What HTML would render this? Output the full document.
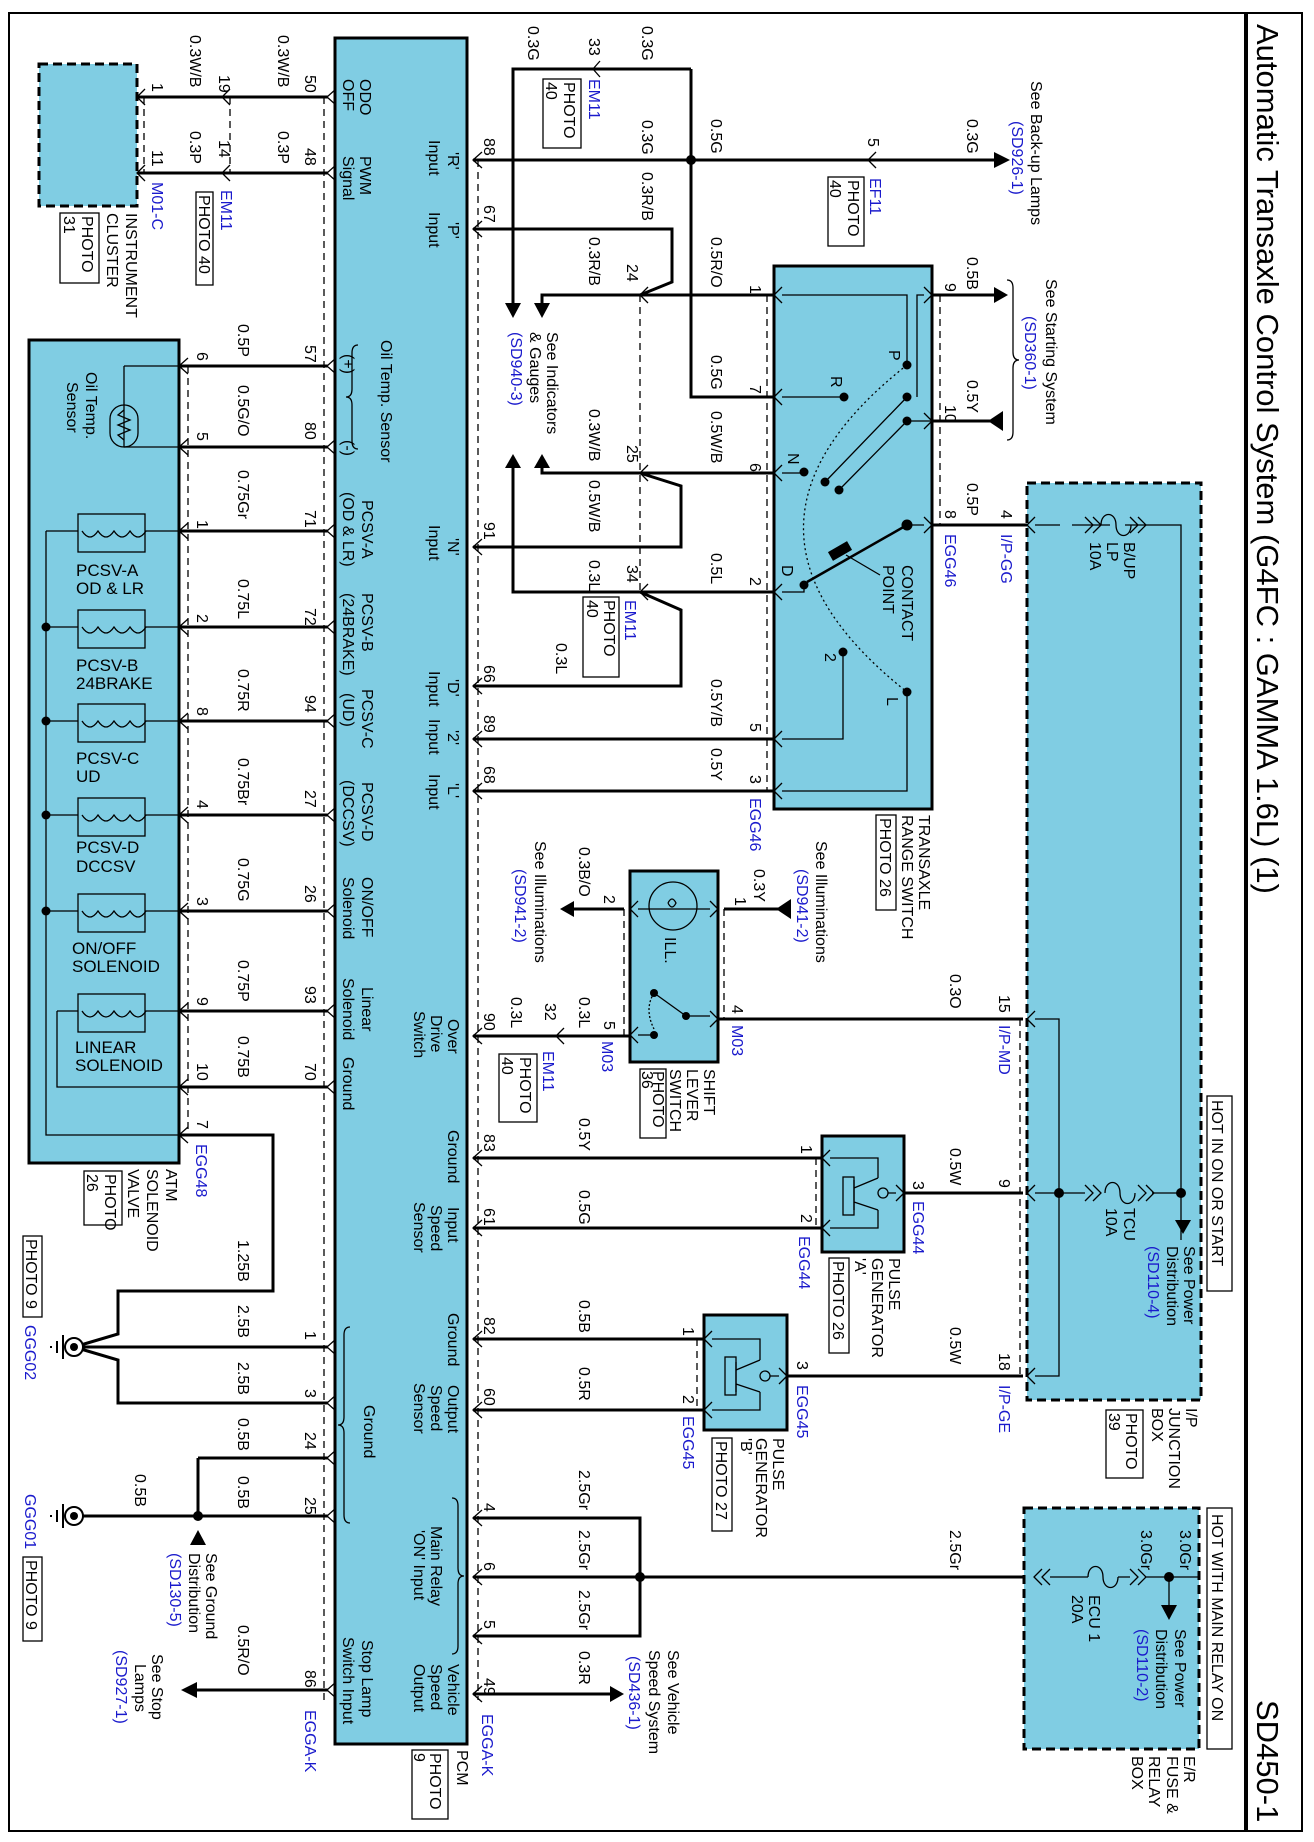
<!DOCTYPE html>
<html><head><meta charset="utf-8"><style>
html,body{margin:0;padding:0;background:#fff}
svg{display:block}
text{font-family:"Liberation Sans",Arial,sans-serif;font-size:16px;fill:#000}
.b{fill:#1a1acc}
.t{font-size:31px}
.s{font-size:17px}
</style></head><body>
<svg width="1314" height="1842" viewBox="0 0 1314 1842" xmlns="http://www.w3.org/2000/svg">
<rect x="9" y="13" width="1293" height="1818" fill="none" stroke="#000" stroke-width="2"/>
<line x1="1246" y1="13" x2="1246" y2="1831" stroke="#000" stroke-width="4"/>

<g fill="#80cde3" stroke="#000">
<rect x="335" y="38" width="132" height="1706" stroke-width="3"/>
<rect x="39" y="64" width="98" height="142" stroke-width="3" stroke-dasharray="9,5"/>
<rect x="29" y="340" width="150" height="823" stroke-width="3"/>
<rect x="774" y="266" width="158" height="543" stroke-width="3"/>
<rect x="630" y="871" width="88" height="191" stroke-width="3"/>
<rect x="822" y="1136" width="82" height="116" stroke-width="3"/>
<rect x="704" y="1315" width="83" height="115" stroke-width="3"/>
<rect x="1027" y="483" width="174" height="917" stroke-width="3" stroke-dasharray="9,5"/>
<rect x="1024" y="1508" width="175" height="241" stroke-width="3" stroke-dasharray="9,5"/>
</g>

<g stroke="#000" stroke-width="1.3" stroke-dasharray="7,5" fill="none">
<line x1="324" y1="97" x2="324" y2="1700"/>
<line x1="478" y1="160" x2="478" y2="1700"/>
<line x1="144" y1="97" x2="144" y2="173"/>
<line x1="230" y1="97" x2="230" y2="173"/>
<line x1="188" y1="366" x2="188" y2="1135"/>
<line x1="767" y1="295" x2="767" y2="791"/>
<line x1="940" y1="295" x2="940" y2="525"/>
<line x1="640" y1="295" x2="640" y2="592"/>
<line x1="624" y1="909" x2="624" y2="1035"/>
<line x1="724" y1="909" x2="724" y2="1019"/>
<line x1="816" y1="1158" x2="816" y2="1228"/>
<line x1="697" y1="1339" x2="697" y2="1410"/>
<line x1="1020" y1="1019" x2="1020" y2="1376"/>
</g>

<g stroke="#000" stroke-width="3" fill="none">
<path d="M137 97H328M137 173H328"/>
<path d="M179 366H328M179 447H328M179 531H328M179 627H328M179 721H328M179 815H328M179 911H328M179 1011H328M179 1087H328"/>
<path d="M179 1135H273V1291H118V1334L74 1347M74 1347H328M328 1403H118V1360L74 1347"/>
<path d="M198 1458H328M198 1458V1516M74 1516H328M195 1690H328"/>
<path d="M473 160H1000M691 69V397H774M593 69H691M593 69H513V305"/>
<path d="M473 229H672V282L640 295H774M640 295H542V305"/>
<path d="M473 547H681V486L640 473H774M640 473H542V466"/>
<path d="M640 592H774M640 592H513V466M473 686H681V610L640 592"/>
<path d="M473 739H774M473 791H774"/>
<path d="M473 1036H630M624 909H572M724 909H778M719 1019H1023"/>
<path d="M473 1158H822M473 1228H822M904 1193H1023"/>
<path d="M473 1339H704M473 1410H704M787 1376H1023"/>
<path d="M473 1518H640V1636H473M473 1577H1024M473 1694H612"/>
<path d="M932 295H995M932 421H990M932 525H1027"/>
</g>

<g fill="#000">
<polygon points="505,303 521,303 513,318"/>
<polygon points="534,303 550,303 542,318"/>
<polygon points="505,468 521,468 513,454"/>
<polygon points="534,468 550,468 542,454"/>
<polygon points="994,152 994,168 1010,160"/>
<polygon points="994,287 994,303 1008,295"/>
<polygon points="988,421 1003,411 1003,431"/>
<polygon points="574,901 574,917 560,909"/>
<polygon points="776,909 791,899 791,919"/>
<polygon points="610,1686 610,1702 624,1694"/>
<polygon points="197,1682 197,1698 181,1690"/>
<polygon points="190,1545 206,1545 198,1530"/>
<polygon points="1175,1220 1191,1220 1183,1234"/>
<polygon points="1161,1605 1177,1605 1169,1620"/>
</g>
<g fill="#000">
<circle cx="691" cy="160" r="5"/><circle cx="198" cy="1516" r="5"/><circle cx="640" cy="1577" r="5"/>
<circle cx="1059" cy="1193" r="5"/><circle cx="1181" cy="1193" r="5"/><circle cx="1169" cy="1577" r="5"/>
<circle cx="46" cy="627" r="4.5"/><circle cx="46" cy="721" r="4.5"/><circle cx="46" cy="815" r="4.5"/><circle cx="46" cy="911" r="4.5"/>
</g>

<g stroke="#000" stroke-width="1.3" fill="none">
<path d="M336 89L327 97L336 105M336 165L327 173L336 181M230 89L222 97L230 105M230 165L222 173L230 181M145 89L137 97L145 105M145 165L137 173L145 181"/>
<path d="M336 358L327 366L336 374M336 439L327 447L336 455M336 523L327 531L336 539M336 619L327 627L336 635M336 713L327 721L336 729M336 807L327 815L336 823M336 903L327 911L336 919M336 1003L327 1011L336 1019M336 1079L327 1087L336 1095M336 1339L327 1347L336 1355M336 1395L327 1403L336 1411M336 1450L327 1458L336 1466M336 1508L327 1516L336 1524M336 1682L327 1690L336 1698"/>
<path d="M188 358L179 366L188 374M188 439L179 447L188 455M188 523L179 531L188 539M188 619L179 627L188 635M188 713L179 721L188 729M188 807L179 815L188 823M188 903L179 911L188 919M188 1003L179 1011L188 1019M188 1079L179 1087L188 1095M188 1127L179 1135L188 1143"/>
<path d="M482 152L473 160L482 168M482 221L473 229L482 237M482 539L473 547L482 555M482 678L473 686L482 694M482 731L473 739L482 747M482 783L473 791L482 799M482 1028L473 1036L482 1044M482 1150L473 1158L482 1166M482 1220L473 1228L482 1236M482 1331L473 1339L482 1347M482 1402L473 1410L482 1418M482 1510L473 1518L482 1526M482 1569L473 1577L482 1585M482 1628L473 1636L482 1644M482 1686L473 1694L482 1702"/>
<path d="M600 61L593 69L600 77M648 287L640 295L648 303M648 465L640 473L648 481M648 584L640 592L648 600M564 1028L556 1036L564 1044M876 152L868 160L876 168"/>
<path d="M782 287L774 295L782 303M782 389L774 397L782 405M782 465L774 473L782 481M782 584L774 592L782 600M782 731L774 739L782 747M782 783L774 791L782 799"/>
<path d="M924 287L932 295L924 303M924 413L932 421L924 429M924 517L932 525L924 533"/>
<path d="M638 901L630 909L638 917M638 1027L630 1035L638 1043M710 901L718 909L710 917M710 1011L718 1019L710 1027"/>
<path d="M830 1150L822 1158L830 1166M830 1220L822 1228L830 1236M712 1331L704 1339L712 1347M712 1402L704 1410L712 1418M896 1185L904 1193L896 1201M779 1368L787 1376L779 1384"/>
<path d="M1035 517L1027 525L1035 533M1035 1011L1027 1019L1035 1027M1035 1185L1027 1193L1035 1201M1035 1368L1027 1376L1035 1384"/>
</g>

<g stroke="#000" stroke-width="1.3" fill="none">
<path d="M46 531V1135H179M46 531H78M145 531H179M46 627H78M145 627H179M46 721H78M145 721H179M46 815H78M145 815H179M46 911H78M145 911H179M57 1011H78M145 1011H179M57 1011V1087H179"/>
<rect x="78" y="514" width="67" height="38"/><rect x="78" y="610" width="67" height="38"/><rect x="78" y="704" width="67" height="38"/>
<rect x="78" y="798" width="67" height="38"/><rect x="78" y="894" width="67" height="38"/><rect x="78" y="994" width="67" height="38"/>
<path d="M82 531q8 12 16 0q8 12 16 0q8 12 16 0q8 12 16 0M82 627q8 12 16 0q8 12 16 0q8 12 16 0q8 12 16 0M82 721q8 12 16 0q8 12 16 0q8 12 16 0q8 12 16 0M82 815q8 12 16 0q8 12 16 0q8 12 16 0q8 12 16 0M82 911q8 12 16 0q8 12 16 0q8 12 16 0q8 12 16 0M82 1011q8 12 16 0q8 12 16 0q8 12 16 0q8 12 16 0"/>
<path d="M124 366H179M124 447H179M124 366V447"/>
<rect x="110" y="405" width="28" height="42" rx="14"/>
<path d="M124 410l-6 5l12 5l-12 5l12 5l-12 5l6 5"/>
</g>

<g stroke="#000" stroke-width="1.3" fill="none">
<path d="M782 295H907V365M924 295H917V397M782 397H844M782 473H804M782 592H804V585M932 421H907M924 525H907M782 739H843V652M782 791H907V692"/>
<path d="M907 365Q700 528 907 692" stroke-dasharray="2,3"/>
<path d="M907 397L825 482M907 421L839 490"/>
<path d="M907 525L807 582" stroke-width="2.5"/>
<path d="M846 555L880 575"/>
</g>
<rect x="829" y="546" width="22" height="10" transform="rotate(-30 840 551)" fill="#000"/>
<g fill="#000">
<circle cx="907" cy="365" r="4.5"/><circle cx="844" cy="397" r="4.5"/><circle cx="907" cy="397" r="4.5"/><circle cx="907" cy="421" r="4.5"/>
<circle cx="804" cy="472" r="4.5"/><circle cx="825" cy="482" r="4.5"/><circle cx="839" cy="490" r="4.5"/><circle cx="907" cy="525" r="5.5"/>
<circle cx="804" cy="585" r="4.5"/><circle cx="843" cy="652" r="4.5"/><circle cx="907" cy="692" r="4.5"/>
</g>

<g stroke="#000" stroke-width="1.3" fill="none">
<path d="M638 909H710"/><circle cx="673" cy="906" r="24"/>
<path d="M668 903q4 -8 8 0q-4 8 -8 0"/>
<path d="M638 1035H654M654 993L686 1016H710"/>
<path d="M654 993q-10 16 0 36" stroke-dasharray="2,2"/>
</g>
<g fill="#000"><circle cx="654" cy="993" r="4"/><circle cx="686" cy="1016" r="4"/><circle cx="654" cy="1035" r="4"/></g>

<g stroke="#000" stroke-width="1.3" fill="none">
<path d="M830 1158H878V1178M830 1228H878V1210M854 1180V1210M854 1188L878 1178M854 1202L878 1210M888 1193H896"/>
<rect x="843" y="1177" width="11" height="38"/><circle cx="883" cy="1193" r="5"/>
<path d="M712 1339H760V1360M712 1410H760V1392M736 1362V1392M736 1370L760 1360M736 1384L760 1392M770 1376H779"/>
<rect x="725" y="1357" width="11" height="38"/><circle cx="765" cy="1376" r="5"/>
</g>

<g stroke="#000" stroke-width="1.3" fill="none">
<path d="M1035 525H1060M1072 525H1110M1125 525H1181V1240M1035 1019H1059V1376H1035M1035 1193H1085M1152 1193H1181"/>
<path d="M1085 517l8 8l-8 8M1093 517l8 8l-8 8M1130 517l8 8l-8 8M1138 517l8 8l-8 8"/>
<path d="M1101 525c0 -14 15 -14 15 0s15 14 15 0" />
<path d="M1085 1185l8 8l-8 8M1093 1185l8 8l-8 8M1138 1185l8 8l-8 8M1146 1185l8 8l-8 8M1105 1193c0 -14 15 -14 15 0s15 14 15 0"/>
<path d="M1042 1569l-8 8l8 8M1050 1569l-8 8l8 8M1130 1569l8 8l-8 8M1138 1569l8 8l-8 8M1088 1577c0 -14 15 -14 15 0s15 14 15 0M1050 1577H1088M1118 1577H1130M1146 1577H1199M1169 1577V1605"/>
<rect x="1207" y="1096" width="25" height="195"/><rect x="1207" y="1508" width="25" height="241"/>
</g>

<g stroke="#000" stroke-width="2" fill="#fff">
<circle cx="74" cy="1347" r="9"/><circle cx="74" cy="1516" r="9"/>
</g>
<g fill="#000"><circle cx="74" cy="1347" r="4"/><circle cx="74" cy="1516" r="4"/></g>
<g stroke="#000" stroke-width="2"><path d="M63 1335V1359M57 1341V1353M51 1346V1348M63 1504V1528M57 1510V1522M51 1515V1517"/></g>

<g stroke="#000" stroke-width="1.3" fill="none">
<path d="M358 345q-6 0 -6 8v36q0 8 -6 8q6 0 6 8v36q0 8 6 8"/>
<path d="M350 1327q-6 0 -6 8v82q0 8 -6 8q6 0 6 8v82q0 8 6 8"/>
<path d="M452 1498q6 0 6 8v62q0 8 6 8q-6 0 -6 8v62q0 8 -6 8"/>
<path d="M1007 280q6 0 6 8v64q0 8 6 8q-6 0 -6 8v64q0 8 -6 8"/>
</g>

<g stroke="#000" stroke-width="1.3" fill="#fff">
<rect x="60" y="213" width="39" height="70"/><rect x="196" y="192" width="17" height="93"/>
<rect x="543" y="79" width="38" height="69"/><rect x="583" y="597" width="36" height="80"/>
<rect x="499" y="1054" width="38" height="68"/><rect x="828" y="177" width="36" height="69"/>
<rect x="876" y="815" width="20" height="95"/><rect x="640" y="1069" width="26" height="69"/>
<rect x="84" y="1171" width="38" height="54"/><rect x="23" y="1236" width="19" height="81"/>
<rect x="23" y="1557" width="19" height="84"/><rect x="829" y="1258" width="20" height="95"/>
<rect x="712" y="1438" width="20" height="93"/><rect x="1106" y="1410" width="37" height="68"/>
<rect x="412" y="1750" width="36" height="69"/>
</g>

<g>
<text class="t" x="1257" y="24" transform="rotate(90 1257 24)">Automatic Transaxle Control System (G4FC : GAMMA 1.6L) (1)</text>
<text class="t" x="1257" y="1700" transform="rotate(90 1257 1700)">SD450-1</text>

<text x="190" y="35" transform="rotate(90 190 35)">0.3W/B</text>
<text x="278" y="35" transform="rotate(90 278 35)">0.3W/B</text>
<text x="219" y="75" transform="rotate(90 219 75)">19</text>
<text x="152" y="83" transform="rotate(90 152 83)">1</text>
<text x="305" y="75" transform="rotate(90 305 75)">50</text>
<text x="190" y="131" transform="rotate(90 190 131)">0.3P</text>
<text x="278" y="131" transform="rotate(90 278 131)">0.3P</text>
<text x="219" y="140" transform="rotate(90 219 140)">14</text>
<text x="152" y="150" transform="rotate(90 152 150)">11</text>
<text x="305" y="148" transform="rotate(90 305 148)">48</text>
<text class="b" x="152" y="182" transform="rotate(90 152 182)">M01-C</text>
<text class="b" x="221" y="190" transform="rotate(90 221 190)">EM11</text>
<text x="199" y="195" transform="rotate(90 199 195)">PHOTO 40</text>
<text x="126" y="213" transform="rotate(90 126 213)">INSTRUMENT</text>
<text x="107" y="213" transform="rotate(90 107 213)">CLUSTER</text>
<text x="82" y="216" transform="rotate(90 82 216)">PHOTO</text>
<text x="64" y="216" transform="rotate(90 64 216)">31</text>

<text x="360" y="79" transform="rotate(90 360 79)">ODO</text>
<text x="343" y="79" transform="rotate(90 343 79)">OFF</text>
<text x="360" y="156" transform="rotate(90 360 156)">PWM</text>
<text x="343" y="156" transform="rotate(90 343 156)">Signal</text>
<text x="381" y="340" transform="rotate(90 381 340)">Oil Temp. Sensor</text>
<text x="343" y="354" transform="rotate(90 343 354)">(+)</text>
<text x="343" y="440" transform="rotate(90 343 440)">(-)</text>
<text x="362" y="500" transform="rotate(90 362 500)">PCSV-A</text>
<text x="343" y="492" transform="rotate(90 343 492)">(OD &amp; LR)</text>
<text x="362" y="593" transform="rotate(90 362 593)">PCSV-B</text>
<text x="343" y="593" transform="rotate(90 343 593)">(24BRAKE)</text>
<text x="362" y="689" transform="rotate(90 362 689)">PCSV-C</text>
<text x="343" y="693" transform="rotate(90 343 693)">(UD)</text>
<text x="362" y="782" transform="rotate(90 362 782)">PCSV-D</text>
<text x="343" y="780" transform="rotate(90 343 780)">(DCCSV)</text>
<text x="362" y="877" transform="rotate(90 362 877)">ON/OFF</text>
<text x="343" y="877" transform="rotate(90 343 877)">Solenoid</text>
<text x="362" y="987" transform="rotate(90 362 987)">Linear</text>
<text x="343" y="978" transform="rotate(90 343 978)">Solenoid</text>
<text x="343" y="1057" transform="rotate(90 343 1057)">Ground</text>
<text x="364" y="1405" transform="rotate(90 364 1405)">Ground</text>
<text x="362" y="1640" transform="rotate(90 362 1640)">Stop Lamp</text>
<text x="343" y="1637" transform="rotate(90 343 1637)">Switch Input</text>

<text x="448" y="152" transform="rotate(90 448 152)">'R'</text>
<text x="429" y="140" transform="rotate(90 429 140)">Input</text>
<text x="448" y="222" transform="rotate(90 448 222)">'P'</text>
<text x="429" y="212" transform="rotate(90 429 212)">Input</text>
<text x="448" y="538" transform="rotate(90 448 538)">'N'</text>
<text x="429" y="525" transform="rotate(90 429 525)">Input</text>
<text x="448" y="679" transform="rotate(90 448 679)">'D'</text>
<text x="429" y="671" transform="rotate(90 429 671)">Input</text>
<text x="448" y="730" transform="rotate(90 448 730)">'2'</text>
<text x="429" y="719" transform="rotate(90 429 719)">Input</text>
<text x="448" y="783" transform="rotate(90 448 783)">'L'</text>
<text x="429" y="774" transform="rotate(90 429 774)">Input</text>
<text x="448" y="1019" transform="rotate(90 448 1019)">Over</text>
<text x="431" y="1015" transform="rotate(90 431 1015)">Drive</text>
<text x="414" y="1011" transform="rotate(90 414 1011)">Switch</text>
<text x="448" y="1130" transform="rotate(90 448 1130)">Ground</text>
<text x="448" y="1207" transform="rotate(90 448 1207)">Input</text>
<text x="431" y="1205" transform="rotate(90 431 1205)">Speed</text>
<text x="414" y="1202" transform="rotate(90 414 1202)">Sensor</text>
<text x="448" y="1313" transform="rotate(90 448 1313)">Ground</text>
<text x="448" y="1385" transform="rotate(90 448 1385)">Output</text>
<text x="431" y="1385" transform="rotate(90 431 1385)">Speed</text>
<text x="414" y="1383" transform="rotate(90 414 1383)">Sensor</text>
<text x="431" y="1526" transform="rotate(90 431 1526)">Main Relay</text>
<text x="414" y="1530" transform="rotate(90 414 1530)">'ON' Input</text>
<text x="448" y="1664" transform="rotate(90 448 1664)">Vehicle</text>
<text x="431" y="1664" transform="rotate(90 431 1664)">Speed</text>
<text x="414" y="1664" transform="rotate(90 414 1664)">Output</text>
<text x="457" y="1750" transform="rotate(90 457 1750)">PCM</text>
<text x="430" y="1753" transform="rotate(90 430 1753)">PHOTO</text>
<text x="414" y="1753" transform="rotate(90 414 1753)">9</text>

<text x="484" y="138" transform="rotate(90 484 138)">88</text>
<text x="484" y="205" transform="rotate(90 484 205)">67</text>
<text x="484" y="522" transform="rotate(90 484 522)">91</text>
<text x="484" y="665" transform="rotate(90 484 665)">66</text>
<text x="484" y="715" transform="rotate(90 484 715)">89</text>
<text x="484" y="766" transform="rotate(90 484 766)">68</text>
<text x="484" y="1013" transform="rotate(90 484 1013)">90</text>
<text x="484" y="1134" transform="rotate(90 484 1134)">83</text>
<text x="484" y="1208" transform="rotate(90 484 1208)">61</text>
<text x="484" y="1317" transform="rotate(90 484 1317)">82</text>
<text x="484" y="1388" transform="rotate(90 484 1388)">60</text>
<text x="484" y="1503" transform="rotate(90 484 1503)">4</text>
<text x="484" y="1562" transform="rotate(90 484 1562)">6</text>
<text x="484" y="1620" transform="rotate(90 484 1620)">5</text>
<text x="484" y="1678" transform="rotate(90 484 1678)">49</text>
<text class="b" x="482" y="1714" transform="rotate(90 482 1714)">EGGA-K</text>
<text class="b" x="305" y="1710" transform="rotate(90 305 1710)">EGGA-K</text>

<text x="238" y="324" transform="rotate(90 238 324)">0.5P</text>
<text x="305" y="345" transform="rotate(90 305 345)">57</text>
<text x="197" y="352" transform="rotate(90 197 352)">6</text>
<text x="238" y="385" transform="rotate(90 238 385)">0.5G/O</text>
<text x="305" y="422" transform="rotate(90 305 422)">80</text>
<text x="197" y="432" transform="rotate(90 197 432)">5</text>
<text x="86" y="372" transform="rotate(90 86 372)">Oil Temp.</text>
<text x="67" y="382" transform="rotate(90 67 382)">Sensor</text>
<text x="238" y="470" transform="rotate(90 238 470)">0.75Gr</text>
<text x="305" y="510" transform="rotate(90 305 510)">71</text>
<text x="197" y="520" transform="rotate(90 197 520)">1</text>
<text x="238" y="579" transform="rotate(90 238 579)">0.75L</text>
<text x="305" y="608" transform="rotate(90 305 608)">72</text>
<text x="197" y="614" transform="rotate(90 197 614)">2</text>
<text x="238" y="669" transform="rotate(90 238 669)">0.75R</text>
<text x="305" y="695" transform="rotate(90 305 695)">94</text>
<text x="197" y="707" transform="rotate(90 197 707)">8</text>
<text x="238" y="758" transform="rotate(90 238 758)">0.75Br</text>
<text x="305" y="790" transform="rotate(90 305 790)">27</text>
<text x="197" y="800" transform="rotate(90 197 800)">4</text>
<text x="238" y="858" transform="rotate(90 238 858)">0.75G</text>
<text x="305" y="885" transform="rotate(90 305 885)">26</text>
<text x="197" y="897" transform="rotate(90 197 897)">3</text>
<text x="238" y="960" transform="rotate(90 238 960)">0.75P</text>
<text x="305" y="986" transform="rotate(90 305 986)">93</text>
<text x="197" y="997" transform="rotate(90 197 997)">9</text>
<text x="238" y="1036" transform="rotate(90 238 1036)">0.75B</text>
<text x="305" y="1063" transform="rotate(90 305 1063)">70</text>
<text x="197" y="1063" transform="rotate(90 197 1063)">10</text>
<text x="197" y="1120" transform="rotate(90 197 1120)">7</text>
<text class="b" x="196" y="1144" transform="rotate(90 196 1144)">EGG48</text>
<text x="166" y="1169" transform="rotate(90 166 1169)">ATM</text>
<text x="147" y="1169" transform="rotate(90 147 1169)">SOLENOID</text>
<text x="128" y="1169" transform="rotate(90 128 1169)">VALVE</text>
<text x="105" y="1174" transform="rotate(90 105 1174)">PHOTO</text>
<text x="87" y="1174" transform="rotate(90 87 1174)">26</text>

<text class="s" x="76" y="576">PCSV-A</text><text class="s" x="76" y="594">OD &amp; LR</text>
<text class="s" x="76" y="671">PCSV-B</text><text class="s" x="76" y="689">24BRAKE</text>
<text class="s" x="76" y="764">PCSV-C</text><text class="s" x="76" y="782">UD</text>
<text class="s" x="76" y="853">PCSV-D</text><text class="s" x="76" y="872">DCCSV</text>
<text class="s" x="72" y="954">ON/OFF</text><text class="s" x="72" y="972">SOLENOID</text>
<text class="s" x="75" y="1053">LINEAR</text><text class="s" x="75" y="1071">SOLENOID</text>

<text x="238" y="1240" transform="rotate(90 238 1240)">1.25B</text>
<text x="238" y="1305" transform="rotate(90 238 1305)">2.5B</text>
<text x="238" y="1362" transform="rotate(90 238 1362)">2.5B</text>
<text x="238" y="1418" transform="rotate(90 238 1418)">0.5B</text>
<text x="238" y="1476" transform="rotate(90 238 1476)">0.5B</text>
<text x="135" y="1474" transform="rotate(90 135 1474)">0.5B</text>
<text x="238" y="1625" transform="rotate(90 238 1625)">0.5R/O</text>
<text x="305" y="1331" transform="rotate(90 305 1331)">1</text>
<text x="305" y="1389" transform="rotate(90 305 1389)">3</text>
<text x="305" y="1432" transform="rotate(90 305 1432)">24</text>
<text x="305" y="1497" transform="rotate(90 305 1497)">25</text>
<text x="305" y="1670" transform="rotate(90 305 1670)">86</text>
<text x="26" y="1239" transform="rotate(90 26 1239)">PHOTO 9</text>
<text class="b" x="25" y="1325" transform="rotate(90 25 1325)">GGG02</text>
<text class="b" x="25" y="1494" transform="rotate(90 25 1494)">GGG01</text>
<text x="26" y="1560" transform="rotate(90 26 1560)">PHOTO 9</text>
<text x="206" y="1553" transform="rotate(90 206 1553)">See Ground</text>
<text x="189" y="1553" transform="rotate(90 189 1553)">Distribution</text>
<text class="b" x="170" y="1553" transform="rotate(90 170 1553)">(SD130-5)</text>
<text x="152" y="1654" transform="rotate(90 152 1654)">See Stop</text>
<text x="135" y="1664" transform="rotate(90 135 1664)">Lamps</text>
<text class="b" x="116" y="1650" transform="rotate(90 116 1650)">(SD927-1)</text>

<text x="528" y="26" transform="rotate(90 528 26)">0.3G</text>
<text x="589" y="38" transform="rotate(90 589 38)">33</text>
<text class="b" x="589" y="79" transform="rotate(90 589 79)">EM11</text>
<text x="564" y="82" transform="rotate(90 564 82)">PHOTO</text>
<text x="546" y="82" transform="rotate(90 546 82)">40</text>
<text x="642" y="26" transform="rotate(90 642 26)">0.3G</text>
<text x="642" y="120" transform="rotate(90 642 120)">0.3G</text>
<text x="642" y="172" transform="rotate(90 642 172)">0.3R/B</text>
<text x="589" y="237" transform="rotate(90 589 237)">0.3R/B</text>
<text x="627" y="264" transform="rotate(90 627 264)">24</text>
<text x="547" y="332" transform="rotate(90 547 332)">See Indicators</text>
<text x="530" y="332" transform="rotate(90 530 332)">&amp; Gauges</text>
<text class="b" x="511" y="332" transform="rotate(90 511 332)">(SD940-3)</text>
<text x="589" y="409" transform="rotate(90 589 409)">0.3W/B</text>
<text x="627" y="445" transform="rotate(90 627 445)">25</text>
<text x="589" y="480" transform="rotate(90 589 480)">0.5W/B</text>
<text x="589" y="560" transform="rotate(90 589 560)">0.3L</text>
<text x="627" y="565" transform="rotate(90 627 565)">34</text>
<text class="b" x="625" y="600" transform="rotate(90 625 600)">EM11</text>
<text x="604" y="600" transform="rotate(90 604 600)">PHOTO</text>
<text x="587" y="600" transform="rotate(90 587 600)">40</text>
<text x="556" y="643" transform="rotate(90 556 643)">0.3L</text>
<text x="579" y="847" transform="rotate(90 579 847)">0.3B/O</text>
<text x="604" y="895" transform="rotate(90 604 895)">2</text>
<text x="535" y="841" transform="rotate(90 535 841)">See Illuminations</text>
<text class="b" x="515" y="869" transform="rotate(90 515 869)">(SD941-2)</text>
<text x="579" y="997" transform="rotate(90 579 997)">0.3L</text>
<text x="604" y="1021" transform="rotate(90 604 1021)">5</text>
<text class="b" x="602" y="1041" transform="rotate(90 602 1041)">M03</text>
<text x="545" y="1003" transform="rotate(90 545 1003)">32</text>
<text x="511" y="997" transform="rotate(90 511 997)">0.3L</text>
<text class="b" x="543" y="1051" transform="rotate(90 543 1051)">EM11</text>
<text x="520" y="1057" transform="rotate(90 520 1057)">PHOTO</text>
<text x="502" y="1057" transform="rotate(90 502 1057)">40</text>
<text x="579" y="1118" transform="rotate(90 579 1118)">0.5Y</text>
<text x="579" y="1190" transform="rotate(90 579 1190)">0.5G</text>
<text x="579" y="1300" transform="rotate(90 579 1300)">0.5B</text>
<text x="579" y="1367" transform="rotate(90 579 1367)">0.5R</text>
<text x="579" y="1470" transform="rotate(90 579 1470)">2.5Gr</text>
<text x="579" y="1530" transform="rotate(90 579 1530)">2.5Gr</text>
<text x="579" y="1590" transform="rotate(90 579 1590)">2.5Gr</text>
<text x="579" y="1651" transform="rotate(90 579 1651)">0.3R</text>
<text x="668" y="1650" transform="rotate(90 668 1650)">See Vehicle</text>
<text x="649" y="1650" transform="rotate(90 649 1650)">Speed System</text>
<text class="b" x="629" y="1656" transform="rotate(90 629 1656)">(SD436-1)</text>

<text x="711" y="119" transform="rotate(90 711 119)">0.5G</text>
<text x="711" y="237" transform="rotate(90 711 237)">0.5R/O</text>
<text x="711" y="355" transform="rotate(90 711 355)">0.5G</text>
<text x="711" y="411" transform="rotate(90 711 411)">0.5W/B</text>
<text x="711" y="553" transform="rotate(90 711 553)">0.5L</text>
<text x="711" y="679" transform="rotate(90 711 679)">0.5Y/B</text>
<text x="711" y="748" transform="rotate(90 711 748)">0.5Y</text>
<text x="868" y="138" transform="rotate(90 868 138)">5</text>
<text class="b" x="870" y="178" transform="rotate(90 870 178)">EF11</text>
<text x="848" y="180" transform="rotate(90 848 180)">PHOTO</text>
<text x="830" y="180" transform="rotate(90 830 180)">40</text>
<text x="967" y="119" transform="rotate(90 967 119)">0.3G</text>
<text x="1031" y="81" transform="rotate(90 1031 81)">See Back-up Lamps</text>
<text class="b" x="1012" y="121" transform="rotate(90 1012 121)">(SD926-1)</text>
<text x="750" y="285" transform="rotate(90 750 285)">1</text>
<text x="750" y="385" transform="rotate(90 750 385)">7</text>
<text x="750" y="463" transform="rotate(90 750 463)">6</text>
<text x="750" y="577" transform="rotate(90 750 577)">2</text>
<text x="750" y="723" transform="rotate(90 750 723)">5</text>
<text x="750" y="775" transform="rotate(90 750 775)">3</text>
<text class="b" x="750" y="798" transform="rotate(90 750 798)">EGG46</text>
<text x="945" y="283" transform="rotate(90 945 283)">9</text>
<text x="945" y="405" transform="rotate(90 945 405)">10</text>
<text x="945" y="510" transform="rotate(90 945 510)">8</text>
<text class="b" x="945" y="534" transform="rotate(90 945 534)">EGG46</text>
<text x="967" y="257" transform="rotate(90 967 257)">0.5B</text>
<text x="967" y="380" transform="rotate(90 967 380)">0.5Y</text>
<text x="967" y="483" transform="rotate(90 967 483)">0.5P</text>
<text x="1001" y="510" transform="rotate(90 1001 510)">4</text>
<text class="b" x="1001" y="534" transform="rotate(90 1001 534)">I/P-GG</text>
<text x="1046" y="279" transform="rotate(90 1046 279)">See Starting System</text>
<text class="b" x="1025" y="316" transform="rotate(90 1025 316)">(SD360-1)</text>
<text x="889" y="350" transform="rotate(90 889 350)">P</text>
<text x="831" y="376" transform="rotate(90 831 376)">R</text>
<text x="788" y="453" transform="rotate(90 788 453)">N</text>
<text x="782" y="565" transform="rotate(90 782 565)">D</text>
<text x="825" y="653" transform="rotate(90 825 653)">2</text>
<text x="887" y="697" transform="rotate(90 887 697)">L</text>
<text x="902" y="565" transform="rotate(90 902 565)">CONTACT</text>
<text x="883" y="565" transform="rotate(90 883 565)">POINT</text>
<text x="919" y="815" transform="rotate(90 919 815)">TRANSAXLE</text>
<text x="902" y="815" transform="rotate(90 902 815)">RANGE SWITCH</text>
<text x="880" y="818" transform="rotate(90 880 818)">PHOTO 26</text>

<text x="754" y="869" transform="rotate(90 754 869)">0.3Y</text>
<text x="735" y="897" transform="rotate(90 735 897)">1</text>
<text x="816" y="841" transform="rotate(90 816 841)">See Illuminations</text>
<text class="b" x="797" y="869" transform="rotate(90 797 869)">(SD941-2)</text>
<text x="665" y="937" transform="rotate(90 665 937)">ILL.</text>
<text x="950" y="974" transform="rotate(90 950 974)">0.3O</text>
<text x="999" y="995" transform="rotate(90 999 995)">15</text>
<text class="b" x="999" y="1025" transform="rotate(90 999 1025)">I/P-MD</text>
<text x="732" y="1005" transform="rotate(90 732 1005)">4</text>
<text class="b" x="732" y="1025" transform="rotate(90 732 1025)">M03</text>
<text x="704" y="1069" transform="rotate(90 704 1069)">SHIFT</text>
<text x="687" y="1069" transform="rotate(90 687 1069)">LEVER</text>
<text x="670" y="1069" transform="rotate(90 670 1069)">SWITCH</text>
<text x="653" y="1071" transform="rotate(90 653 1071)">PHOTO</text>
<text x="642" y="1071" transform="rotate(90 642 1071)">36</text>

<text x="801" y="1145" transform="rotate(90 801 1145)">1</text>
<text x="801" y="1214" transform="rotate(90 801 1214)">2</text>
<text class="b" x="799" y="1236" transform="rotate(90 799 1236)">EGG44</text>
<text x="950" y="1148" transform="rotate(90 950 1148)">0.5W</text>
<text x="913" y="1181" transform="rotate(90 913 1181)">3</text>
<text x="999" y="1179" transform="rotate(90 999 1179)">9</text>
<text class="b" x="913" y="1201" transform="rotate(90 913 1201)">EGG44</text>
<text x="889" y="1258" transform="rotate(90 889 1258)">PULSE</text>
<text x="872" y="1258" transform="rotate(90 872 1258)">GENERATOR</text>
<text x="855" y="1258" transform="rotate(90 855 1258)">'A'</text>
<text x="833" y="1261" transform="rotate(90 833 1261)">PHOTO 26</text>
<text x="683" y="1327" transform="rotate(90 683 1327)">1</text>
<text x="683" y="1395" transform="rotate(90 683 1395)">2</text>
<text class="b" x="683" y="1416" transform="rotate(90 683 1416)">EGG45</text>
<text x="950" y="1327" transform="rotate(90 950 1327)">0.5W</text>
<text x="999" y="1353" transform="rotate(90 999 1353)">18</text>
<text x="797" y="1361" transform="rotate(90 797 1361)">3</text>
<text class="b" x="797" y="1385" transform="rotate(90 797 1385)">EGG45</text>
<text class="b" x="999" y="1385" transform="rotate(90 999 1385)">I/P-GE</text>
<text x="773" y="1438" transform="rotate(90 773 1438)">PULSE</text>
<text x="756" y="1438" transform="rotate(90 756 1438)">GENERATOR</text>
<text x="741" y="1438" transform="rotate(90 741 1438)">'B'</text>
<text x="716" y="1441" transform="rotate(90 716 1441)">PHOTO 27</text>

<text x="1124" y="542" transform="rotate(90 1124 542)">B/UP</text>
<text x="1107" y="542" transform="rotate(90 1107 542)">LP</text>
<text x="1090" y="542" transform="rotate(90 1090 542)">10A</text>
<text x="1124" y="1208" transform="rotate(90 1124 1208)">TCU</text>
<text x="1106" y="1208" transform="rotate(90 1106 1208)">10A</text>
<text x="1212" y="1100" transform="rotate(90 1212 1100)">HOT IN ON OR START</text>
<text x="1184" y="1246" transform="rotate(90 1184 1246)">See Power</text>
<text x="1167" y="1246" transform="rotate(90 1167 1246)">Distribution</text>
<text class="b" x="1148" y="1246" transform="rotate(90 1148 1246)">(SD110-4)</text>
<text x="1186" y="1408" transform="rotate(90 1186 1408)">I/P</text>
<text x="1169" y="1408" transform="rotate(90 1169 1408)">JUNCTION</text>
<text x="1152" y="1408" transform="rotate(90 1152 1408)">BOX</text>
<text x="1126" y="1413" transform="rotate(90 1126 1413)">PHOTO</text>
<text x="1109" y="1413" transform="rotate(90 1109 1413)">39</text>
<text x="950" y="1530" transform="rotate(90 950 1530)">2.5Gr</text>
<text x="1212" y="1514" transform="rotate(90 1212 1514)">HOT WITH MAIN RELAY ON</text>
<text x="1180" y="1530" transform="rotate(90 1180 1530)">3.0Gr</text>
<text x="1141" y="1530" transform="rotate(90 1141 1530)">3.0Gr</text>
<text x="1089" y="1595" transform="rotate(90 1089 1595)">ECU 1</text>
<text x="1072" y="1595" transform="rotate(90 1072 1595)">20A</text>
<text x="1175" y="1629" transform="rotate(90 1175 1629)">See Power</text>
<text x="1156" y="1629" transform="rotate(90 1156 1629)">Distribution</text>
<text class="b" x="1137" y="1629" transform="rotate(90 1137 1629)">(SD110-2)</text>
<text x="1184" y="1756" transform="rotate(90 1184 1756)">E/R</text>
<text x="1167" y="1756" transform="rotate(90 1167 1756)">FUSE &amp;</text>
<text x="1149" y="1756" transform="rotate(90 1149 1756)">RELAY</text>
<text x="1132" y="1756" transform="rotate(90 1132 1756)">BOX</text>
</g>
</svg>
</body></html>
